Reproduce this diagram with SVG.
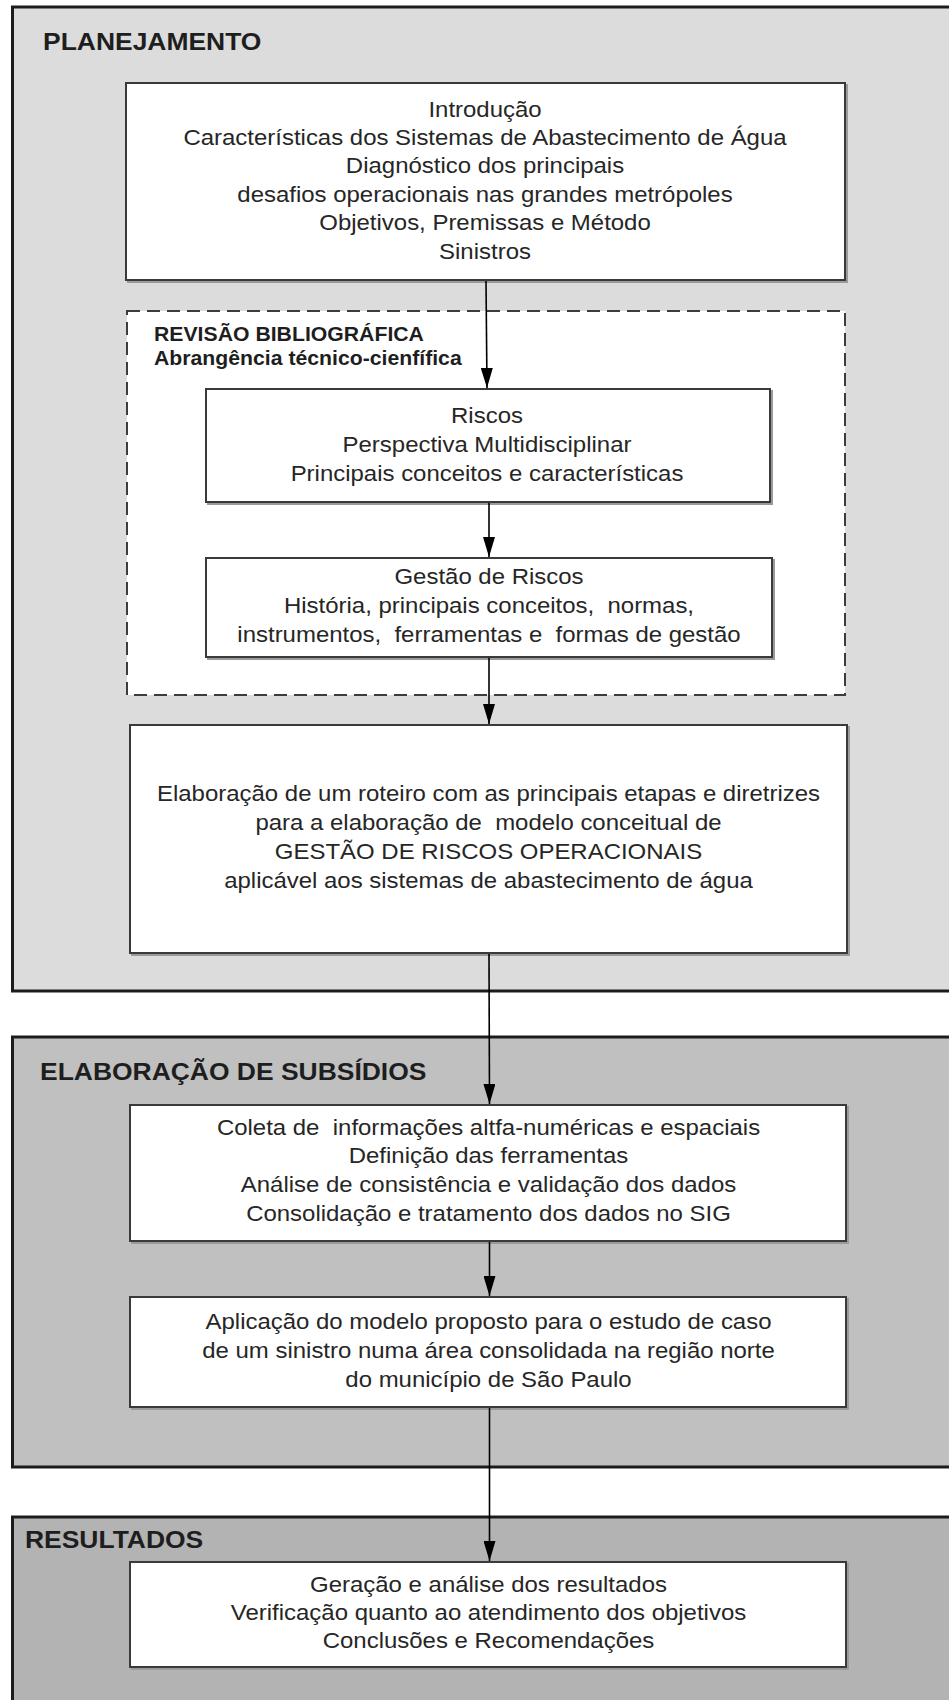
<svg xmlns="http://www.w3.org/2000/svg" width="949" height="1700" viewBox="0 0 949 1700">
<defs>
<style>
.panel{stroke:#1c1c1c;stroke-width:3}
.p1{fill:#dcdcdc}.p2{fill:#c0c0c0}.p3{fill:#b3b3b3}
.box{fill:#ffffff;stroke:#3a3a3a;stroke-width:2}
.shadow{fill:none;stroke:#9a9a9a;stroke-width:2}
.dash{fill:#ffffff;stroke:#3c3c3c;stroke-width:2;stroke-dasharray:13 7}
.t{font-family:"Liberation Sans",Arial,sans-serif;font-size:22.5px;fill:#262626;text-anchor:middle;white-space:pre}
.h{font-family:"Liberation Sans",Arial,sans-serif;font-size:24.5px;font-weight:bold;fill:#1e1e1e}
.h2{font-family:"Liberation Sans",Arial,sans-serif;font-size:20.5px;font-weight:bold;fill:#1e1e1e}
.c{stroke:#000;stroke-width:1.6;fill:none;marker-end:url(#ah)}
</style>
<marker id="ah" viewBox="0 0 20 12" refX="20" refY="6" markerWidth="20" markerHeight="12" markerUnits="userSpaceOnUse" orient="auto">
<path d="M0,0 L20,6 L0,12 z" fill="#000"/>
</marker>
</defs>

<g id="panel-planejamento">
<rect class="panel p1" x="12.5" y="7" width="950" height="984"/>
<text class="h" transform="translate(43,50) scale(1.08,1)">PLANEJAMENTO</text>
</g>
<g id="panel-subsidios">
<rect class="panel p2" x="12.5" y="1037" width="950" height="430"/>
<text class="h" transform="translate(40,1080) scale(1.08,1)">ELABORAÇÃO DE SUBSÍDIOS</text>
</g>
<g id="panel-resultados">
<rect class="panel p3" x="12.5" y="1517" width="950" height="200"/>
<text class="h" transform="translate(25,1548) scale(1.08,1)">RESULTADOS</text>
</g>

<g id="node-introducao">
<rect class="shadow" x="128" y="85" width="719" height="197"/>
<rect class="box" x="126" y="83" width="719" height="197"/>
<g transform="translate(485,0) scale(1.065,1)">
<text class="t" x="0" y="117">Introdução</text>
<text class="t" x="0" y="145">Características dos Sistemas de Abastecimento de Água</text>
<text class="t" x="0" y="173">Diagnóstico dos principais</text>
<text class="t" x="0" y="202">desafios operacionais nas grandes metrópoles</text>
<text class="t" x="0" y="230">Objetivos, Premissas e Método</text>
<text class="t" x="0" y="259">Sinistros</text>
</g>
</g>

<g id="group-revisao">
<rect class="dash" x="127" y="311" width="718" height="384"/>
<text class="h2" transform="translate(154,341) scale(1.035,1)">REVISÃO BIBLIOGRÁFICA</text>
<text class="h2" transform="translate(154,365) scale(1.035,1)">Abrangência técnico-cienfífica</text>
</g>

<g id="node-riscos">
<rect class="shadow" x="208" y="391" width="564" height="113"/>
<rect class="box" x="206" y="389" width="564" height="113"/>
<g transform="translate(487,0) scale(1.065,1)">
<text class="t" x="0" y="423">Riscos</text>
<text class="t" x="0" y="452">Perspectiva Multidisciplinar</text>
<text class="t" x="0" y="481">Principais conceitos e características</text>
</g>
</g>

<g id="node-gestao">
<rect class="shadow" x="208" y="560" width="566" height="99"/>
<rect class="box" x="206" y="558" width="566" height="99"/>
<g transform="translate(489,0) scale(1.065,1)">
<text class="t" x="0" y="584">Gestão de Riscos</text>
<text class="t" x="0" y="613">História, principais conceitos,  normas,</text>
<text class="t" x="0" y="642">instrumentos,  ferramentas e  formas de gestão</text>
</g>
</g>

<g id="node-roteiro">
<rect class="shadow" x="132" y="727" width="717" height="228"/>
<rect class="box" x="130" y="725" width="717" height="228"/>
<g transform="translate(488.5,0) scale(1.065,1)">
<text class="t" x="0" y="801">Elaboração de um roteiro com as principais etapas e diretrizes</text>
<text class="t" x="0" y="830">para a elaboração de  modelo conceitual de</text>
<text class="t" x="0" y="859">GESTÃO DE RISCOS OPERACIONAIS</text>
<text class="t" x="0" y="888">aplicável aos sistemas de abastecimento de água</text>
</g>
</g>

<g id="node-coleta">
<rect class="shadow" x="132" y="1107" width="716" height="136"/>
<rect class="box" x="130" y="1105" width="716" height="136"/>
<g transform="translate(488.5,0) scale(1.065,1)">
<text class="t" x="0" y="1135">Coleta de  informações altfa-numéricas e espaciais</text>
<text class="t" x="0" y="1163">Definição das ferramentas</text>
<text class="t" x="0" y="1192">Análise de consistência e validação dos dados</text>
<text class="t" x="0" y="1221">Consolidação e tratamento dos dados no SIG</text>
</g>
</g>

<g id="node-aplicacao">
<rect class="shadow" x="132" y="1299" width="716" height="110"/>
<rect class="box" x="130" y="1297" width="716" height="110"/>
<g transform="translate(488.5,0) scale(1.065,1)">
<text class="t" x="0" y="1329">Aplicação do modelo proposto para o estudo de caso</text>
<text class="t" x="0" y="1358">de um sinistro numa área consolidada na região norte</text>
<text class="t" x="0" y="1387">do município de São Paulo</text>
</g>
</g>

<g id="node-resultados">
<rect class="shadow" x="132" y="1564" width="716" height="105"/>
<rect class="box" x="130" y="1562" width="716" height="105"/>
<g transform="translate(488.5,0) scale(1.065,1)">
<text class="t" x="0" y="1592">Geração e análise dos resultados</text>
<text class="t" x="0" y="1620">Verificação quanto ao atendimento dos objetivos</text>
<text class="t" x="0" y="1648">Conclusões e Recomendações</text>
</g>
</g>

<g id="connectors">
<line class="c" x1="486" y1="281" x2="487" y2="388"/>
<line class="c" x1="489" y1="503" x2="489" y2="557"/>
<line class="c" x1="489" y1="658" x2="489" y2="724"/>
<line class="c" x1="489" y1="954" x2="489.5" y2="1104"/>
<line class="c" x1="489.5" y1="1242" x2="489.5" y2="1296"/>
<line class="c" x1="489.5" y1="1408" x2="489.5" y2="1561"/>
</g>
</svg>
